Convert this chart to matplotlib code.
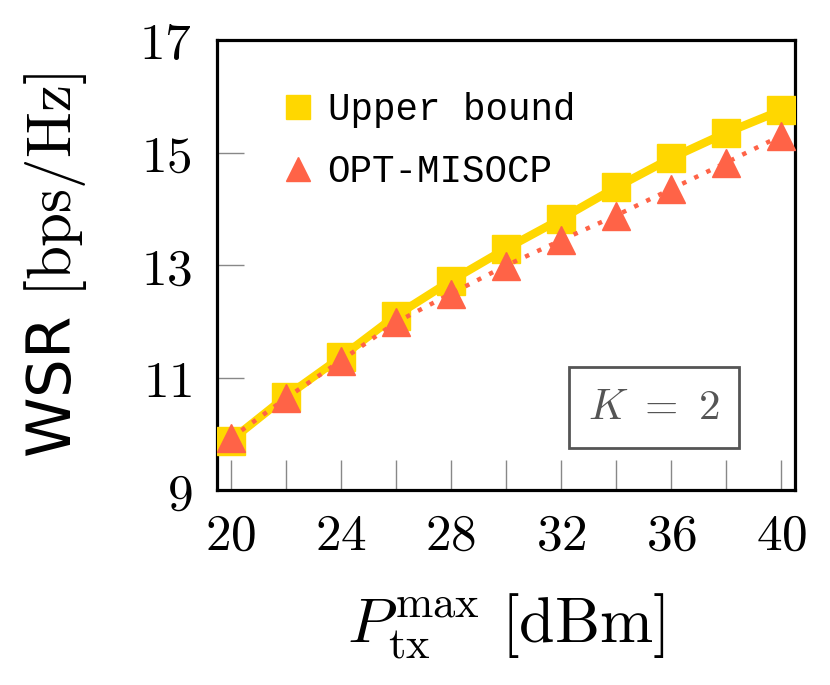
import matplotlib
matplotlib.use("Agg")
import matplotlib.pyplot as plt
from matplotlib.lines import Line2D

plt.rcParams['mathtext.fontset'] = 'cm'

# Data
p_tx = [20, 22, 24, 26, 28, 30, 32, 34, 36, 38, 40]
upper_bound = [9.88, 10.66, 11.36, 12.10, 12.72, 13.29, 13.82, 14.38, 14.90, 15.35, 15.75]
opt_misocp = [9.92, 10.63, 11.30, 11.98, 12.49, 12.99, 13.44, 13.88, 14.35, 14.82, 15.30]
x_ticks = [20, 22, 24, 26, 28, 30, 32, 34, 36, 38, 40]
x_labeled = [20, 24, 28, 32, 36, 40]
y_ticks = [9, 11, 13, 15, 17]
labels = ["Upper bound", "OPT-MISOCP"]

gold = '#FFD700'
tomato = '#FF6347'

fig = plt.figure(figsize=(8.3, 6.85), dpi=100)
ax = fig.add_axes([217/830, 1-490/685, 578/830, 450/685])

ax.plot(p_tx, upper_bound, color=gold, lw=6, marker='s', ms=20, zorder=3)
ax.plot(p_tx, opt_misocp, color=tomato, lw=3.2, linestyle=(0, (1, 2)),
        marker='^', ms=20, zorder=4)

ax.set_xlim(19.5, 40.5)
ax.set_ylim(9, 17)

ax.set_xticks(x_ticks)
ax.set_xticklabels([f'${t}$' if t in x_labeled else '' for t in x_ticks])
ax.set_yticks(y_ticks)
ax.set_yticklabels([f'${t}$' for t in y_ticks])
ax.tick_params(axis='x', direction='in', length=21.5, width=1.0, color='#888888',
               labelsize=37, pad=15)
ax.tick_params(axis='y', direction='in', length=19.5, width=1.0, color='#888888',
               labelsize=37, pad=18)
for s in ax.spines.values():
    s.set_linewidth(2.3)
    s.set_color('black')

ax.set_xlabel(r'$P_{\mathrm{tx}}^{\max}\ [\mathrm{dBm}]$', fontsize=46, labelpad=22)
ax.set_ylabel(r'WSR $[\mathrm{bps/Hz}]$', fontsize=44, labelpad=36)

handles = [Line2D([], [], color=gold, marker='s', ls='none', ms=17),
           Line2D([], [], color=tomato, marker='^', ls='none', ms=17)]
ax.legend(handles, labels, loc='upper left', bbox_to_anchor=(0.055, 0.96),
          frameon=False, prop={'family': 'Liberation Mono', 'size': 27},
          handlelength=0.8, handletextpad=0.4, labelspacing=0.7)

ax.text(0.756, 0.184, r'$K\ =\ 2$', transform=ax.transAxes, fontsize=31,
        color='#555555', ha='center', va='center',
        bbox=dict(boxstyle='square,pad=0.45', fc='white', ec='#555555', lw=2))

fig.savefig('out.png', dpi=100)
